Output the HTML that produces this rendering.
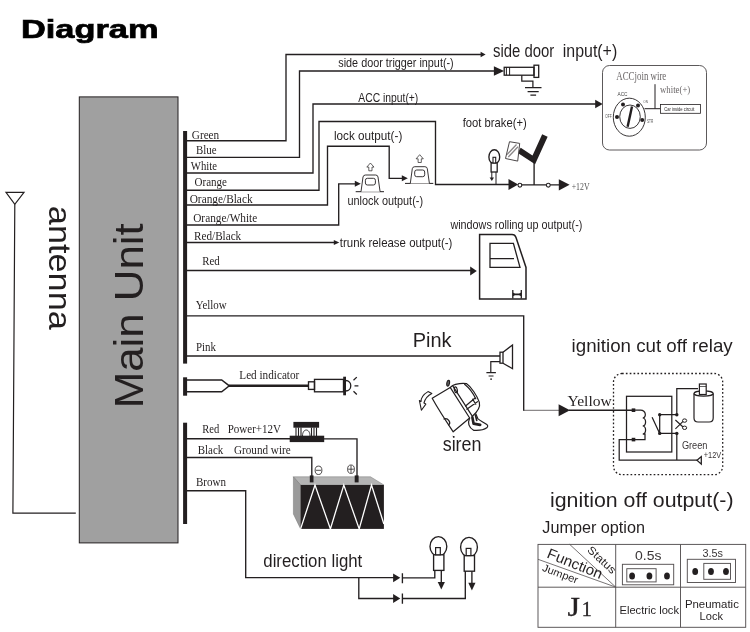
<!DOCTYPE html>
<html><head><meta charset="utf-8">
<style>
html,body{margin:0;padding:0;background:#fff;}
body{width:750px;height:632px;overflow:hidden;font-family:"Liberation Sans",sans-serif;}
svg{display:block;will-change:transform;}
.w{fill:none;stroke:#231f20;stroke-width:1.35;}
.t{fill:none;stroke:#231f20;stroke-width:1;}
.k{fill:#231f20;stroke:none;}
.ss{font-family:"Liberation Sans",sans-serif;fill:#231f20;}
.sf{font-family:"Liberation Serif",serif;fill:#231f20;}
</style></head><body>
<svg width="750" height="632" viewBox="0 0 750 632">
<rect width="750" height="632" fill="#fff"/>

<!-- title -->
<text x="21" y="37.6" font-family="Liberation Sans" font-weight="bold" font-size="25.6" fill="#000" stroke="#000" stroke-width="0.7" textLength="137.5" lengthAdjust="spacingAndGlyphs">Diagram</text>

<!-- main unit -->
<rect x="79.3" y="96.9" width="98.7" height="446" fill="#a0a0a0" stroke="#231f20" stroke-width="1"/>
<text class="ss" font-size="41" textLength="185" lengthAdjust="spacingAndGlyphs" transform="translate(143,408.3) rotate(-90)">Main Unit</text>

<!-- antenna -->
<path class="t" style="stroke-width:1.2" d="M6,192.3 H24 L14.8,204.3 Z"/>
<path class="t" style="stroke-width:1.2" d="M14.8,204.3 L12.9,513.2 H75.8"/>
<text class="ss" font-size="32" textLength="124" lengthAdjust="spacingAndGlyphs" transform="translate(49.3,205.8) rotate(90)">antenna</text>

<!-- bus bars -->
<rect class="k" x="183.1" y="131" width="4" height="232.6"/>
<rect class="k" x="183.1" y="377.3" width="4" height="18.4"/>
<rect class="k" x="183.1" y="422.7" width="4" height="101.3"/>

<!-- WIRES-TOP -->
<path class="w" d="M187,140.7 H286 V54.5 H482"/>
<polygon class="k" points="485.6,54.5 480.6,51.8 480.6,57.2"/>
<path class="w" d="M187,157.4 H299.5 V71 H495"/>
<polygon class="k" points="504.1,71 493.9,66.2 493.9,75.8"/>
<path class="w" d="M187,173 H313 V104 H596"/>
<polygon class="k" points="602.7,104 595.2,99.7 595.2,108.3"/>
<path class="w" d="M187,190.2 H319 V121.5 H435.5 V184.5 H509"/>
<path class="w" d="M187,205 H327.5 V146.2 H389.2 V178.3 H402"/>
<polygon class="k" points="407.8,178.3 401.8,175.3 401.8,181.3"/>
<path class="w" d="M187,225 H338.7 V183.8 H355"/>
<polygon class="k" points="360.8,183.8 354.8,180.8 354.8,186.8"/>
<path class="w" d="M187,242.5 H334"/>
<polygon class="k" points="339.3,242.5 333.8,240 333.8,245"/>
<path class="w" d="M187,270.5 H471"/>
<polygon class="k" points="476.8,271 470.2,266.6 470.2,275.4"/>
<!-- WIRES-MID -->
<path class="w" d="M187,315.8 H523.7 V410.8"/>
<path d="M523.1,410.3 H560" fill="none" stroke="#4a4647" stroke-width="0.8"/>
<polygon class="k" points="570,410.2 558.6,404.2 558.6,416.2"/>
<path class="w" d="M569,410.2 H633"/>
<path class="w" d="M187,356 H500"/>
<!-- led -->
<path class="w" style="stroke-width:1.45" d="M187,380 H221.7 L229.3,385.8 L221.7,391.7 H187"/>
<path d="M229,385.8 H308.5" stroke="#231f20" stroke-width="2.5" fill="none"/>
<rect class="t" style="stroke-width:1.35" x="308.5" y="381.8" width="6" height="7.6" fill="#fff"/>
<rect class="t" style="stroke-width:1.35" x="314.5" y="379.4" width="29" height="12.4" fill="#fff"/>
<path d="M344.6,376.7 V395.3" stroke="#231f20" stroke-width="2.8" fill="none"/>
<path class="t" style="stroke-width:1.3" d="M345.6,380.5 C352.5,380.5 352.5,391 345.6,391"/>
<path class="t" style="stroke-width:1.3" d="M353.5,380.2 L356.8,377.1 M354.5,385.8 H358.4 M353.5,391.3 L356.8,394.5"/>
<!-- WIRES-BOT -->
<path class="w" d="M187,438.7 H290"/>
<path class="w" d="M324,438.8 H357 V476"/>
<path class="w" d="M187,457.5 H311.8 V476"/>
<path class="w" d="M187,490.7 H245.7 V577.6 H394"/>
<path class="w" d="M358.8,577.8 V598.5 H394"/>
<polygon class="k" points="400.3,577.8 393.1,573.4 393.1,582.2"/>
<polygon class="k" points="400.3,598.5 393.1,594.1 393.1,602.9"/>
<path class="w" d="M402.4,573.2 V583.2 M402.4,593.5 V603.7"/>
<path class="w" d="M402.4,577.8 H434.8 V570.4"/>
<path class="w" d="M402.4,598.5 H465.3 V570.9"/>
<!-- ICONS -->
<!-- side door switch -->
<rect class="t" style="stroke-width:1.3" x="504.2" y="67.3" width="29.8" height="7.9" fill="#fff"/>
<path class="t" d="M506.4,67.3 V75.2 M509.6,67.3 V75.2"/>
<rect class="t" style="stroke-width:1.3" x="534" y="65.2" width="4.7" height="12.2" fill="#fff"/>
<path class="t" style="stroke-width:1.25" d="M521.8,75.2 V81.2 H532.9 V87.6 M525,87.6 H541.5 M527.6,91.7 H538.7 M530.4,95 H536.1"/>
<!-- ACC box -->
<rect x="602.5" y="65.5" width="104" height="84.5" rx="7" ry="7" fill="#fff" stroke="#4a4647" stroke-width="0.9"/>
<ellipse cx="629.3" cy="117.2" rx="16" ry="19" fill="#fff" stroke="#231f20" stroke-width="0.9"/>
<ellipse cx="630" cy="116.7" rx="10.3" ry="11.7" fill="#fff" stroke="#231f20" stroke-width="0.9"/>
<path d="M632,106.5 L627.6,126.8" stroke="#231f20" stroke-width="2.4" fill="none"/>
<circle class="k" cx="623" cy="104.5" r="2"/><circle class="k" cx="638" cy="105.5" r="2"/>
<circle class="k" cx="617" cy="117" r="2"/><circle class="k" cx="642.2" cy="120" r="2"/>
<path class="t" d="M655,84.2 V108.7 M644.5,108.7 H660.3"/>
<rect x="660.5" y="104.5" width="40" height="8.8" fill="#fff" stroke="#231f20" stroke-width="0.8"/>
<text class="ss" x="664.2" y="110.7" font-size="5" textLength="30.3" lengthAdjust="spacingAndGlyphs">Car inside circuit</text>
<text class="sf" x="616.3" y="79.7" font-size="11.6" fill="#555" style="fill:#6a6667" textLength="50" lengthAdjust="spacingAndGlyphs">ACCjoin wire</text>
<text class="sf" x="660" y="93.3" font-size="10" style="fill:#6a6667" textLength="30.3" lengthAdjust="spacingAndGlyphs">white(+)</text>
<text class="ss" x="617.5" y="95.8" font-size="6" style="fill:#444" textLength="10" lengthAdjust="spacingAndGlyphs">ACC</text>
<text class="ss" x="643.3" y="102.5" font-size="4" style="fill:#555" textLength="4.7" lengthAdjust="spacingAndGlyphs">ON</text>
<text class="ss" x="605.3" y="118" font-size="5" style="fill:#555" textLength="6.4" lengthAdjust="spacingAndGlyphs">OFF</text>
<text class="ss" x="647" y="123.3" font-size="5.5" style="fill:#555" textLength="6.3" lengthAdjust="spacingAndGlyphs">STR</text>
<!-- lock icons -->
<g id="lk">
<path class="t" d="M405,183.4 H433.3" stroke-width="0.9"/>
<path d="M410.3,183.4 L412.3,168.7 Q412.7,166.7 414.8,166.7 H424.9 Q427,166.7 427.3,168.7 L429.4,183.4" fill="#fff" stroke="#231f20" stroke-width="0.9"/>
<rect x="414.7" y="170" width="10" height="6.7" rx="2" ry="2" fill="#fff" stroke="#231f20" stroke-width="0.9"/>
<path d="M419.7,154.7 L423.3,158.8 H421.3 V162.5 H418.1 V158.8 H416.1 Z" fill="#fff" stroke="#231f20" stroke-width="0.7"/>
</g>
<use href="#lk" transform="translate(-49.3,8.3)"/>
<!-- foot brake -->
<ellipse cx="494.3" cy="156.9" rx="5.4" ry="7.1" fill="#fff" stroke="#231f20" stroke-width="1.35"/>
<rect x="491.1" y="163" width="6.1" height="9" fill="#fff" stroke="#231f20" stroke-width="1.3"/>
<rect x="493" y="157.3" width="2.7" height="5.7" fill="#fff" stroke="#231f20" stroke-width="1.1"/>
<path class="t" d="M491.8,172 V178 M496,172 V184.5"/>
<polygon class="k" points="491.8,180.9 489.6,177.4 494,177.4"/>
<polygon class="k" points="518.2,184.5 508.5,178.9 508.5,190.1"/>
<circle cx="519.9" cy="185.2" r="1.9" fill="#fff" stroke="#231f20" stroke-width="1.1"/>
<path class="w" d="M521.6,184.8 H546.6 M550,184.8 H560 M534.1,184.5 V160"/>
<circle cx="548.3" cy="185.2" r="1.9" fill="#fff" stroke="#231f20" stroke-width="1.1"/>
<polygon class="k" points="569.6,184.8 558.8,179.2 558.8,190.4"/>
<path d="M519.1,150.3 L533.8,159.9 L544.9,135.6" fill="none" stroke="#231f20" stroke-width="6" stroke-linejoin="miter"/>
<polygon points="509.5,141.7 519.7,143.4 517.7,161.1 505.5,158.5" fill="#fff" stroke="#4a4647" stroke-width="1"/>
<path d="M507,154.5 L516.5,144.5 M508.3,157 L518,146.8" stroke="#8a8687" stroke-width="1.3" fill="none"/>
<text class="sf" x="571.7" y="190.2" font-size="9.5" style="fill:#555" textLength="17.9" lengthAdjust="spacingAndGlyphs">+12V</text>
<!-- door -->
<path d="M479.6,234.6 H512 Q515,234.6 516,237.5 L526,267.4 V299 H479.6 Z" fill="#fff" stroke="#231f20" stroke-width="1.5"/>
<path d="M490,243.4 H513.4 L520,267.4 H490 Z M490,258.6 H514" fill="none" stroke="#231f20" stroke-width="1.3"/>
<path d="M512.8,290 V298.5 M521.3,290 V298.5" stroke="#231f20" stroke-width="1.3" fill="none"/>
<path d="M512.8,292.6 L515,293.6 H519 L521.3,292.6 V296.2 L519,295.2 H515 L512.8,296.2 Z" fill="#231f20" stroke="none"/>
<!-- speaker -->
<rect class="t" style="stroke-width:1.3" x="500" y="352.2" width="3" height="11" fill="#fff"/>
<path class="t" style="stroke-width:1.3" d="M503,352.2 L512.5,345 V368.7 L503,363.2"/>
<path class="t" style="stroke-width:1.2" d="M500,361.6 H490.8 V372.7 M486.4,372.7 H495.9 M488.6,376 H493.5 M490.2,379.2 H492"/>
<!-- siren -->
<g transform="translate(410,370) scale(0.12)" fill="none" stroke="#231f20" stroke-width="10" stroke-linejoin="round" stroke-linecap="round">
<path d="M185,235 L335,145 L497,400 L360,515 C330,470 215,290 185,235 Z" fill="#fff"/>
<path d="M355,130 L520,386"/>
<path d="M335,145 L355,130 C385,112 440,108 470,113 C510,140 560,215 578,270 C588,310 560,350 520,386"/>
<path d="M455,118 C495,150 530,200 548,240"/>
<path d="M463,300 L540,235 M473,327 L562,264 M522,243 L548,285"/>
<path d="M497,400 C480,440 485,475 530,503 C570,506 615,500 640,482 C650,470 650,462 640,455 C610,435 580,420 565,405 L548,365"/>
<path d="M520,395 L530,447 L585,457" stroke-width="22"/>
<path d="M545,375 L556,420" stroke-width="14"/>
<path d="M283,408 C318,395 345,440 322,458"/>
<ellipse cx="382" cy="165" rx="12" ry="25" transform="rotate(-12 382 165)"/>
<ellipse cx="318" cy="110" rx="11" ry="24" transform="rotate(10 318 110)" fill="#666"/>
<circle cx="352" cy="550" r="3" fill="#231f20" stroke="none"/>
<path d="M150,180 C108,205 92,235 92,262 L78,254 L95,335 L132,284 L116,275 C125,242 150,212 182,196 Z" fill="#fff" stroke-width="9"/>
</g>
<!-- relay -->
<rect x="613.5" y="373.5" width="109.2" height="101.2" rx="8.5" ry="8.5" fill="none" stroke="#231f20" stroke-width="1.3" stroke-dasharray="1.7 2.15"/>
<rect class="t" stroke-width="1.25" style="stroke-width:1.25" x="626.5" y="396.3" width="45.3" height="55.7"/>
<rect class="k" x="631.7" y="408.4" width="3.6" height="3.6"/>
<rect class="k" x="631.7" y="437.8" width="3.6" height="3.6"/>
<path class="t" stroke-width="1.25" style="stroke-width:1.25" d="M633.5,410.2 H640.5 C646.5,410.5 646.5,417.5 642.8,418 C646.5,418.5 646.5,425.5 642.8,426 C646.5,426.5 646.5,433.5 642.8,434 H645 V439.6 H633.5"/>
<path class="t" stroke-width="1.25" style="stroke-width:1.25" d="M633.5,439.6 H619.2 V460 H697"/>
<path class="t" stroke-width="1.25" style="stroke-width:1.25" d="M697,460.2 L701.3,456.5 V464.1 Z"/>
<path class="t" stroke-width="1.25" style="stroke-width:1.25" d="M659.7,414.7 H676.8 M659.7,433.4 H676.8 M659.7,414.7 V433.4 M659.7,433.4 L652.1,417.2"/>
<path class="t" stroke-width="1.25" style="stroke-width:1.25" d="M676.8,414.7 V388.7 H698 M676.8,433.4 V460"/>
<circle class="k" cx="659.7" cy="414.7" r="1.7"/><circle class="k" cx="659.7" cy="433.4" r="1.7"/>
<circle class="k" cx="676.8" cy="414.7" r="1.7"/><circle class="k" cx="676.8" cy="433.4" r="1.7"/>
<path d="M694,393.5 V418 Q694,422 698,422 H709.2 Q713.2,422 713.2,418 V393.5" fill="#fff" stroke="#231f20" stroke-width="1.2"/>
<ellipse cx="703.6" cy="393.5" rx="9.6" ry="2.6" fill="#fff" stroke="#231f20" stroke-width="1.2"/>
<rect x="699.4" y="384" width="6.8" height="10.5" fill="#fff" stroke="#231f20" stroke-width="1.2"/>
<path d="M699.4,386.5 H706.2" stroke="#231f20" stroke-width="0.7" fill="none"/>
<!-- scissors -->
<path d="M675.4,428.8 L683.3,421.2 M675.4,420 L683.3,427.2" stroke="#231f20" stroke-width="1.15" fill="none"/>
<ellipse cx="684.6" cy="420.6" rx="2.1" ry="1.7" fill="#fff" stroke="#231f20" stroke-width="1"/>
<ellipse cx="684.6" cy="427.8" rx="2.1" ry="1.7" fill="#fff" stroke="#231f20" stroke-width="1"/>
<text class="ss" x="681.9" y="448.5" font-size="10.8" style="fill:#3a3637" textLength="25.6" lengthAdjust="spacingAndGlyphs">Green</text>
<text class="ss" x="703.7" y="457.5" font-size="9.5" style="fill:#3a3637" textLength="17.5" lengthAdjust="spacingAndGlyphs">+12V</text>
<!-- fuse -->
<rect class="k" x="293.4" y="421.9" width="25.7" height="5.8"/>
<rect class="k" x="289.7" y="435.7" width="34.5" height="6.4"/>
<path d="M296,427.5 V436 M298.5,427.5 V436 M301,427.5 V436 M311.5,427.5 V436 M314,427.5 V436 M316.5,427.5 V436" stroke="#231f20" stroke-width="1.1" fill="none"/>
<path d="M302.5,436 C302.5,428 310,428 310,436" stroke="#231f20" stroke-width="0.9" fill="none"/>
<!-- battery -->
<polygon points="293.4,476.8 370.5,476.8 383.9,485 300.6,485" fill="#b4b4b4" stroke="#8a8a8a" stroke-width="0.6"/>
<polygon points="293.4,476.8 300.6,485 300.6,528.9 293.4,514" fill="#9a9a9a" stroke="#777" stroke-width="0.5"/>
<rect x="300.6" y="485" width="83.3" height="43.9" fill="#231f20"/>
<path d="M300.6,528.9 L315,485 L330.4,528.9 L343.8,485 L359.2,528.9 L371.5,485 L383.9,524" fill="none" stroke="#fff" stroke-width="1.3"/>
<rect class="k" x="309.8" y="475.4" width="3.7" height="7"/>
<rect class="k" x="354.7" y="475.4" width="3.9" height="7"/>
<ellipse cx="318.5" cy="470.3" rx="3.4" ry="4.2" fill="#fff" stroke="#231f20" stroke-width="0.8"/>
<path d="M315.8,470.3 H321.2" stroke="#231f20" stroke-width="0.8"/>
<ellipse cx="351" cy="469.2" rx="3.4" ry="4.2" fill="#fff" stroke="#231f20" stroke-width="0.8"/>
<path d="M348.2,469.2 H353.8 M351,465.6 V472.8" stroke="#231f20" stroke-width="0.8"/>
<!-- bulbs -->
<g id="bulb">
<ellipse cx="438.4" cy="546.4" rx="8.4" ry="9.8" fill="#fff" stroke="#231f20" stroke-width="1.35"/>
<rect x="433.6" y="554.8" width="10.3" height="15.6" fill="#fff" stroke="#231f20" stroke-width="1.35"/>
<rect x="435.6" y="547.6" width="4.7" height="7.2" fill="#fff" stroke="#231f20" stroke-width="1.2"/>
<path d="M441.3,570.4 V583" stroke="#231f20" stroke-width="1.35" fill="none"/>
<polygon class="k" points="441.3,589.6 437.7,581.9 444.9,581.9"/>
</g>
<use href="#bulb" transform="translate(30.6,0.8)"/>
<!-- LABELS -->
<g class="sf" font-size="12.5">
<text x="191.8" y="138.8" textLength="27.4" lengthAdjust="spacingAndGlyphs">Green</text>
<text x="196.1" y="153.5" textLength="20.5" lengthAdjust="spacingAndGlyphs">Blue</text>
<text x="190.8" y="170" textLength="26.2" lengthAdjust="spacingAndGlyphs">White</text>
<text x="194.5" y="185.5" textLength="32.5" lengthAdjust="spacingAndGlyphs">Orange</text>
<text x="189.7" y="203" textLength="62.9" lengthAdjust="spacingAndGlyphs">Orange/Black</text>
<text x="193.2" y="222.2" textLength="64.1" lengthAdjust="spacingAndGlyphs">Orange/White</text>
<text x="194.1" y="240.3" textLength="47.1" lengthAdjust="spacingAndGlyphs">Red/Black</text>
<text x="202.2" y="265.2" textLength="17.5" lengthAdjust="spacingAndGlyphs">Red</text>
<text x="195.7" y="309.3" textLength="31" lengthAdjust="spacingAndGlyphs">Yellow</text>
<text x="196" y="350.7" textLength="20" lengthAdjust="spacingAndGlyphs">Pink</text>
<text x="239.3" y="379.3" textLength="60" lengthAdjust="spacingAndGlyphs">Led indicator</text>
<text x="202.3" y="432.7" textLength="17" lengthAdjust="spacingAndGlyphs">Red</text>
<text x="227.7" y="432.7" textLength="53.3" lengthAdjust="spacingAndGlyphs">Power+12V</text>
<text x="197.7" y="454" textLength="25.6" lengthAdjust="spacingAndGlyphs">Black</text>
<text x="234" y="454" textLength="56.7" lengthAdjust="spacingAndGlyphs">Ground wire</text>
<text x="196" y="486" textLength="30" lengthAdjust="spacingAndGlyphs">Brown</text>
</g>
<text class="sf" x="567.5" y="406" font-size="15" textLength="44.3" lengthAdjust="spacingAndGlyphs">Yellow</text>
<g class="ss" font-size="13">
<text x="338.3" y="66.7" textLength="115.4" lengthAdjust="spacingAndGlyphs">side door trigger input(-)</text>
<text x="358.3" y="101.8" textLength="60" lengthAdjust="spacingAndGlyphs">ACC input(+)</text>
<text x="334" y="140" textLength="68.3" lengthAdjust="spacingAndGlyphs">lock output(-)</text>
<text x="347.5" y="204.7" textLength="75.5" lengthAdjust="spacingAndGlyphs">unlock output(-)</text>
<text x="462.7" y="126.5" textLength="64" lengthAdjust="spacingAndGlyphs">foot brake(+)</text>
<text x="339.8" y="246.7" textLength="112.6" lengthAdjust="spacingAndGlyphs">trunk release output(-)</text>
<text x="450.4" y="228.6" textLength="132" lengthAdjust="spacingAndGlyphs">windows rolling up output(-)</text>
</g>
<text class="ss" x="493" y="57.3" font-size="17.5" textLength="61.3" lengthAdjust="spacingAndGlyphs">side door</text>
<text class="ss" x="562.8" y="57.3" font-size="17.5" textLength="54.4" lengthAdjust="spacingAndGlyphs">input(+)</text>
<text class="ss" x="412.8" y="347" font-size="20" textLength="38.8" lengthAdjust="spacingAndGlyphs">Pink</text>
<text class="ss" x="442.7" y="450.7" font-size="20" textLength="38.8" lengthAdjust="spacingAndGlyphs">siren</text>
<text class="ss" x="571.6" y="351.6" font-size="17.5" textLength="161.1" lengthAdjust="spacingAndGlyphs">ignition cut off relay</text>
<text class="ss" x="550" y="506.8" font-size="19.6" textLength="183.5" lengthAdjust="spacingAndGlyphs">ignition off output(-)</text>
<text class="ss" x="263.3" y="566.7" font-size="18" textLength="99" lengthAdjust="spacingAndGlyphs">direction light</text>
<text class="ss" x="542.3" y="532.9" font-size="16" textLength="102.7" lengthAdjust="spacingAndGlyphs">Jumper option</text>
<!-- TABLE -->
<g fill="none" stroke="#555152" stroke-width="0.95">
<rect x="538" y="544.4" width="207.7" height="82.9"/>
<path d="M538,587.2 H745.7 M615.7,544.4 V627.3 M680.5,544.4 V627.3"/>
<path d="M569.6,544.3 L615.7,587.1 M538,559.3 L615.7,587.1" stroke-width="0.8"/>
<rect x="622.4" y="564.3" width="51.3" height="20.5"/>
<rect x="626.8" y="568.7" width="29.3" height="13.2"/>
<rect x="687.3" y="559.3" width="48.2" height="23.2"/>
<rect x="703.8" y="563.4" width="26.7" height="15.9"/>
</g>
<g class="k">
<ellipse cx="632.1" cy="576" rx="2.9" ry="3.5"/><ellipse cx="649.4" cy="576" rx="2.9" ry="3.5"/><ellipse cx="667" cy="576" rx="2.9" ry="3.5"/>
<ellipse cx="695.2" cy="571.6" rx="2.9" ry="3.5"/><ellipse cx="711" cy="571.6" rx="2.9" ry="3.5"/><ellipse cx="726" cy="571.6" rx="2.9" ry="3.5"/>
</g>
<text class="ss" font-size="14.5" transform="translate(546,557.3) rotate(22)" textLength="58.5" lengthAdjust="spacingAndGlyphs">Function</text>
<text class="ss" font-size="11" transform="translate(586.6,550.8) rotate(43)" textLength="34.5" lengthAdjust="spacingAndGlyphs">Status</text>
<text class="ss" font-size="10.5" transform="translate(541.5,570.6) rotate(20.5)" textLength="37.5" lengthAdjust="spacingAndGlyphs">Jumper</text>
<text class="ss" x="635" y="559.9" font-size="12.5" textLength="26.4" lengthAdjust="spacingAndGlyphs" style="fill:#3a3637">0.5s</text>
<text class="ss" x="702.5" y="556.9" font-size="11.3" textLength="20.5" lengthAdjust="spacingAndGlyphs" style="fill:#3a3637">3.5s</text>
<text class="sf" x="567.6" y="615.6" font-size="26.5" stroke="#231f20" stroke-width="0.3" textLength="12.5" lengthAdjust="spacingAndGlyphs">J</text><text class="sf" x="581.8" y="615.6" font-size="20.5" stroke="#231f20" stroke-width="0.35" textLength="10" lengthAdjust="spacingAndGlyphs">1</text>
<text class="ss" x="619.5" y="614.1" font-size="11" textLength="59.5" lengthAdjust="spacingAndGlyphs">Electric lock</text>
<text class="ss" x="684.9" y="607.7" font-size="11" textLength="54" lengthAdjust="spacingAndGlyphs">Pneumatic</text>
<text class="ss" x="699.6" y="619.6" font-size="11" textLength="23.4" lengthAdjust="spacingAndGlyphs">Lock</text>
</svg>
</body></html>
